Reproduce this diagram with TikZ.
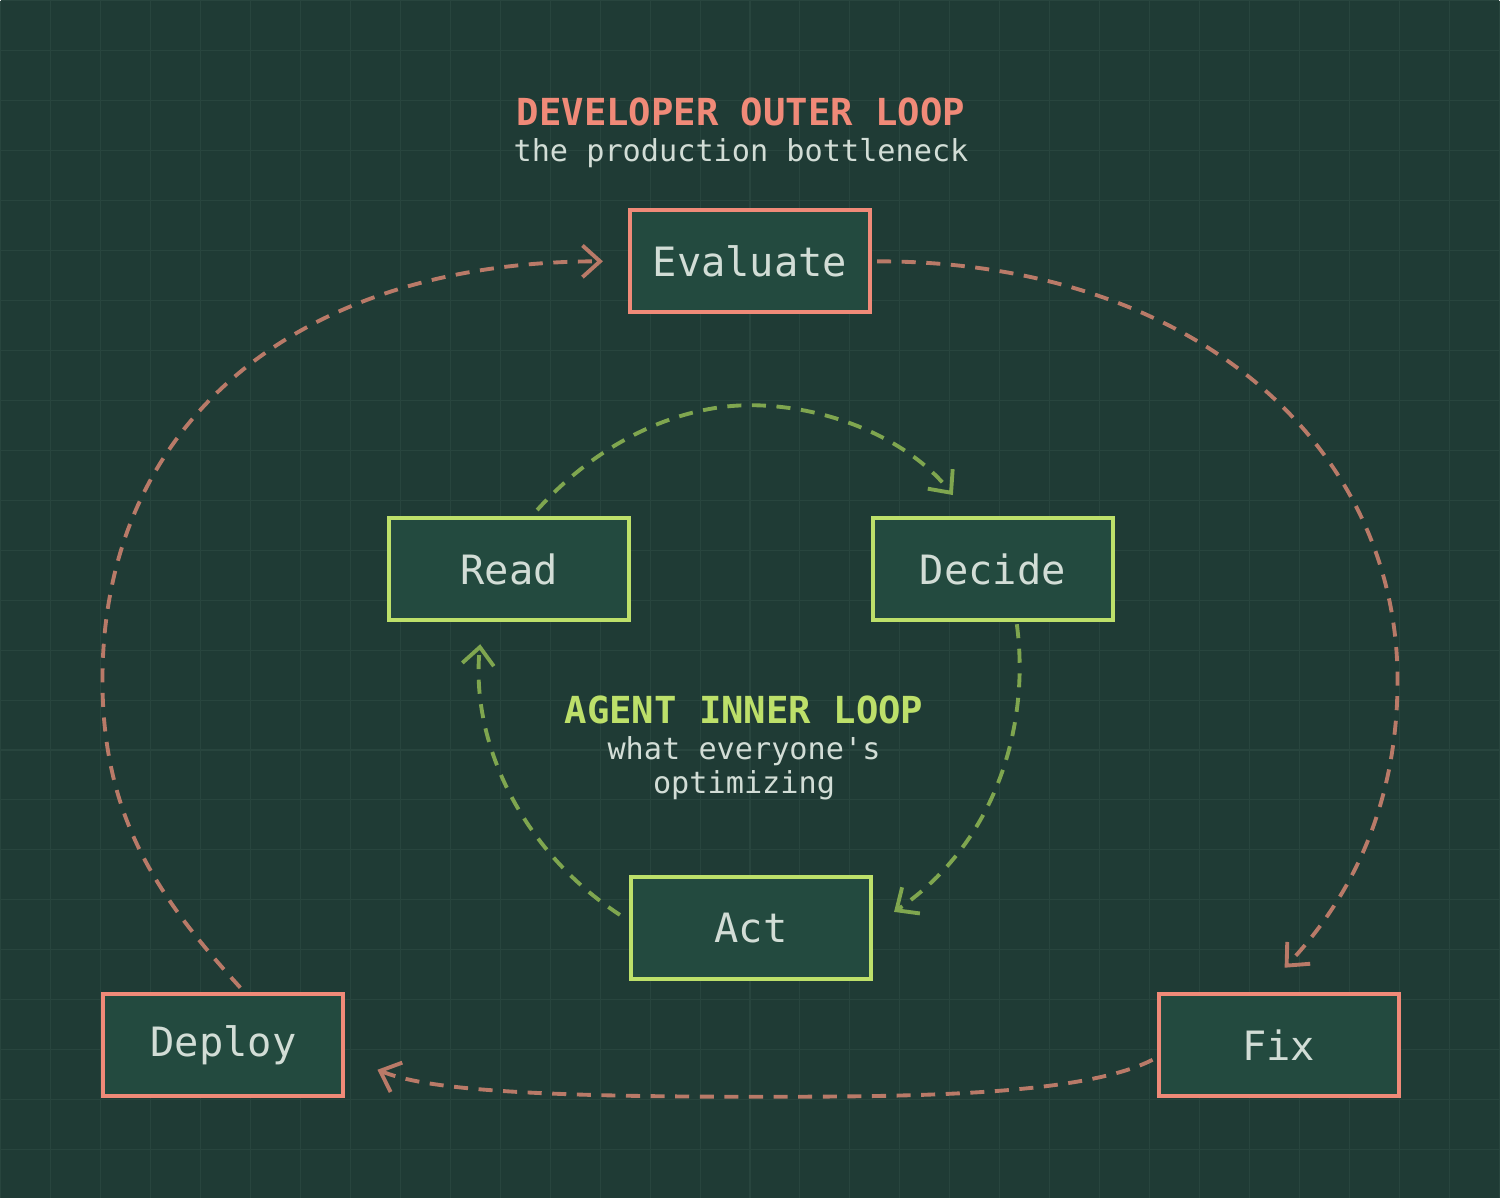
\documentclass[tikz,border=0pt]{standalone}
\usepackage{fontspec}
\setmonofont{DejaVu Sans Mono}
\usetikzlibrary{arrows.meta}
\definecolor{bgcol}{HTML}{1F3B35}
\definecolor{gridcol}{HTML}{28453E}
\definecolor{boxfill}{HTML}{234A3F}
\definecolor{outercol}{HTML}{F08A78}
\definecolor{innercol}{HTML}{BDE06A}
\definecolor{outerarrow}{HTML}{B97A68}
\definecolor{innerarrow}{HTML}{7FA64F}
\definecolor{labelcol}{HTML}{D2DDD6}

\tikzset{
  outerbox/.style={draw=outercol,fill=boxfill,line width=1.2pt,minimum width=2.4cm,minimum height=1.02cm,
    font=\ttfamily\fontsize{11.5}{12}\selectfont,text=labelcol},
  innerbox/.style={outerbox,draw=innercol},
  outerflow/.style={draw=outerarrow,line width=1.1pt,dash pattern=on 4pt off 3pt,-{Straight Barb[length=5pt,width=9pt]}},
  innerflow/.style={outerflow,draw=innerarrow}
}

\begin{document}
\begin{tikzpicture}[x=0.01cm,y=-0.01cm]

\fill[bgcol] (0,0) rectangle (1500,1198);
\foreach \gx in {0,50,...,1500} \draw[gridcol,line width=0.3pt] (\gx,0) -- (\gx,1198);
\foreach \gy in {0,50,...,1198} \draw[gridcol,line width=0.3pt] (0,\gy) -- (1500,\gy);

% titles
\node[text=outercol,font=\ttfamily\bfseries\fontsize{10.6}{12}\selectfont] (outertitle) at (741,112) {DEVELOPER OUTER LOOP};
\node[text=labelcol,font=\ttfamily\fontsize{8.6}{10}\selectfont] (outersub) at (741,153) {the production bottleneck};
\node[text=innercol,font=\ttfamily\bfseries\fontsize{10.6}{12}\selectfont] (innertitle) at (744,710) {AGENT INNER LOOP};
\node[text=labelcol,font=\ttfamily\fontsize{8.6}{9.6}\selectfont,align=center] (innersub) at (744,768) {what everyone's\\optimizing};

% boxes
\node[outerbox] (evaluate) at (750,261) {Evaluate};
\node[outerbox] (deploy) at (223,1045) {Deploy};
\node[outerbox] (fix) at (1279,1045) {Fix};
\node[innerbox] (read) at (509,569) {Read};
\node[innerbox] (decide) at (993,569) {Decide};
\node[innerbox] (act) at (751,928) {Act};

% outer loop
\draw[outerflow] ([shift={(17,-4)}]deploy.north) .. controls (160,900) and (102,820) .. (102,680)
  .. controls (102,420) and (300,261) .. ([shift={(-25,0)}]evaluate.west);
\draw[outerflow] ([shift={(5,0)}]evaluate.east) .. controls (1200,261) and (1398,450) .. (1398,680)
  .. controls (1398,820) and (1340,910) .. ([shift={(6,-24)}]fix.north);
\draw[outerflow] ([shift={(-4,15)}]fix.west) .. controls (1080,1097) and (900,1097) .. (750,1097)
  .. controls (500,1097) and (420,1087) .. ([shift={(32,25)}]deploy.east);

% inner loop
\draw[innerflow] ([shift={(28,-6)}]read.north) .. controls (600,440) and (680,405) .. (750,405)
  .. controls (830,405) and (910,440) .. ([shift={(-40,-21)}]decide.north);
\draw[innerflow] ([shift={(24,2)}]decide.south) .. controls (1030,720) and (1000,840) .. ([shift={(21,-16)}]act.east);
\draw[innerflow] ([shift={(-9,-13)}]act.west) .. controls (520,850) and (470,740) .. ([shift={(-29,22)}]read.south);

\end{tikzpicture}
\end{document}
